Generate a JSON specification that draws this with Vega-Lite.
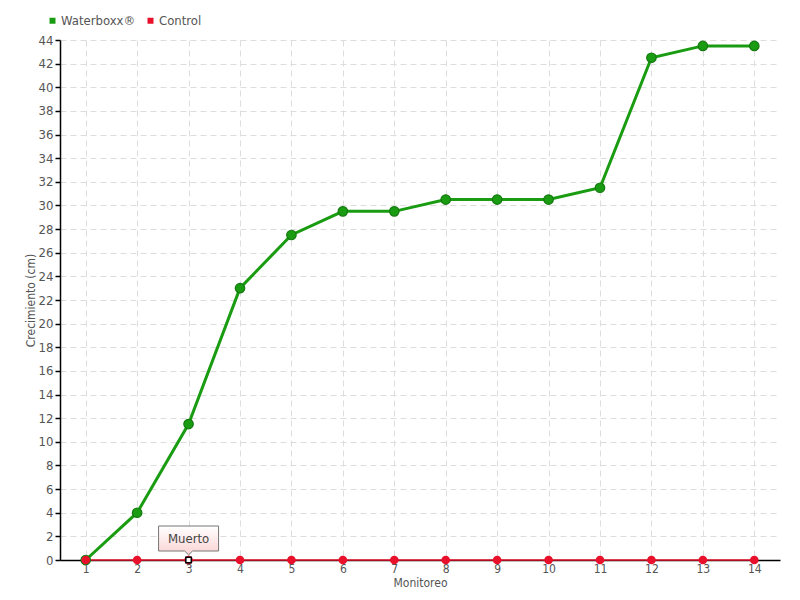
{
  "$schema": "https://vega.github.io/schema/vega-lite/v6.json",
  "autosize": "none",
  "width": 720,
  "height": 520,
  "padding": {"left": 60, "top": 40, "right": 20, "bottom": 40},
  "background": "white",
  "config": {
    "font": "'DejaVu Sans Condensed', 'Liberation Sans', sans-serif",
    "view": {"stroke": null}
  },
  "datasets": {
    "series": [
      {"m": "1", "serie": "Waterboxx®", "v": 0},
      {"m": "2", "serie": "Waterboxx®", "v": 4},
      {"m": "3", "serie": "Waterboxx®", "v": 11.5},
      {"m": "4", "serie": "Waterboxx®", "v": 23},
      {"m": "5", "serie": "Waterboxx®", "v": 27.5},
      {"m": "6", "serie": "Waterboxx®", "v": 29.5},
      {"m": "7", "serie": "Waterboxx®", "v": 29.5},
      {"m": "8", "serie": "Waterboxx®", "v": 30.5},
      {"m": "9", "serie": "Waterboxx®", "v": 30.5},
      {"m": "10", "serie": "Waterboxx®", "v": 30.5},
      {"m": "11", "serie": "Waterboxx®", "v": 31.5},
      {"m": "12", "serie": "Waterboxx®", "v": 42.5},
      {"m": "13", "serie": "Waterboxx®", "v": 43.5},
      {"m": "14", "serie": "Waterboxx®", "v": 43.5},
      {"m": "1", "serie": "Control", "v": 0},
      {"m": "2", "serie": "Control", "v": 0},
      {"m": "3", "serie": "Control", "v": 0},
      {"m": "4", "serie": "Control", "v": 0},
      {"m": "5", "serie": "Control", "v": 0},
      {"m": "6", "serie": "Control", "v": 0},
      {"m": "7", "serie": "Control", "v": 0},
      {"m": "8", "serie": "Control", "v": 0},
      {"m": "9", "serie": "Control", "v": 0},
      {"m": "10", "serie": "Control", "v": 0},
      {"m": "11", "serie": "Control", "v": 0},
      {"m": "12", "serie": "Control", "v": 0},
      {"m": "13", "serie": "Control", "v": 0},
      {"m": "14", "serie": "Control", "v": 0}
    ],
    "note": [
      {"m": "3", "v": 0, "label": "Muerto"}
    ]
  },
  "encoding": {
    "x": {
      "field": "m",
      "type": "ordinal",
      "sort": ["1","2","3","4","5","6","7","8","9","10","11","12","13","14"],
      "scale": {"type": "point", "padding": 0.5},
      "axis": {
        "title": "Monitoreo",
        "titleFontSize": 12,
        "titleFontWeight": "normal",
        "titleColor": "#555",
        "titlePadding": 3,
        "labelAngle": 0,
        "labelFontSize": 12,
        "labelColor": "#555",
        "labelPadding": 3,
        "ticks": false,
        "domainColor": "black",
        "domainWidth": 1.5,
        "grid": true,
        "gridColor": "#dddddd",
        "gridDash": [6, 4],
        "gridWidth": 1
      }
    },
    "y": {
      "field": "v",
      "type": "quantitative",
      "scale": {"domain": [0, 44], "nice": false},
      "axis": {
        "title": "Crecimiento (cm)",
        "titleFontSize": 12,
        "titleFontWeight": "normal",
        "titleColor": "#555",
        "titlePadding": 1,
        "values": [0,2,4,6,8,10,12,14,16,18,20,22,24,26,28,30,32,34,36,38,40,42,44],
        "labelFontSize": 13,
        "labelColor": "#555",
        "labelPadding": 2,
        "tickColor": "black",
        "tickSize": 5,
        "tickWidth": 1.5,
        "domainColor": "black",
        "domainWidth": 1.5,
        "grid": true,
        "gridColor": "#dddddd",
        "gridDash": [6, 4],
        "gridWidth": 1
      }
    }
  },
  "layer": [
    {
      "data": {"name": "series"},
      "mark": {"type": "line", "strokeWidth": 3},
      "transform": [{"filter": "datum.serie === 'Waterboxx®'"}],
      "encoding": {
        "color": {
          "field": "serie",
          "type": "nominal",
          "scale": {"domain": ["Waterboxx®", "Control"], "range": ["#1a9c12", "#e8102a"]},
          "legend": {
            "title": null,
            "orient": "none",
            "legendX": -14,
            "legendY": -26,
            "direction": "horizontal",
            "symbolType": "square",
            "symbolSize": 36,
            "symbolStrokeWidth": 0,
            "labelFontSize": 13,
            "labelColor": "#555",
            "labelOffset": 2,
            "columnPadding": 8
          }
        }
      }
    },
    {
      "data": {"name": "series"},
      "mark": {"type": "line", "strokeWidth": 1.5},
      "transform": [{"filter": "datum.serie === 'Control'"}],
      "encoding": {"color": {"field": "serie", "type": "nominal"}}
    },
    {
      "data": {"name": "series"},
      "mark": {"type": "point", "filled": true, "size": 90, "opacity": 1, "strokeWidth": 1.2},
      "transform": [{"filter": "datum.serie === 'Waterboxx®'"}],
      "encoding": {
        "color": {"field": "serie", "type": "nominal"},
        "stroke": {"value": "#157a10"}
      }
    },
    {
      "data": {"name": "series"},
      "mark": {"type": "point", "filled": true, "size": 75, "opacity": 1},
      "transform": [{"filter": "datum.serie === 'Control'"}],
      "encoding": {"color": {"field": "serie", "type": "nominal"}}
    },
    {
      "data": {"name": "note"},
      "mark": {
        "type": "point",
        "shape": "M-1,-1.133 H1 V-0.3 H0.13 L0,-0.17 L-0.13,-0.3 H-1 Z",
        "size": 3600,
        "filled": true,
        "opacity": 1,
        "fill": {
          "gradient": "linear",
          "x1": 0, "y1": 0, "x2": 0, "y2": 1,
          "stops": [{"offset": 0, "color": "#ffffff"}, {"offset": 1, "color": "#fbd3d3"}]
        },
        "stroke": "#777777",
        "strokeWidth": 1
      }
    },
    {
      "data": {"name": "note"},
      "mark": {"type": "point", "shape": "square", "size": 30, "filled": false, "fill": "white", "stroke": "black", "strokeWidth": 1.5, "opacity": 1}
    },
    {
      "data": {"name": "note"},
      "mark": {"type": "text", "dy": -21, "fontSize": 13, "color": "#444"},
      "encoding": {"text": {"field": "label"}}
    }
  ]
}
